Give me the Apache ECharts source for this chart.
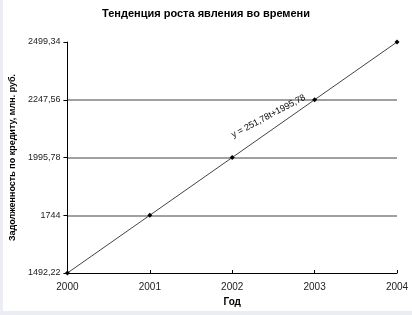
<!DOCTYPE html>
<html><head><meta charset="utf-8">
<script src="https://cdn.jsdelivr.net/npm/echarts@6/dist/echarts.min.js"></script>
<style>
html,body{margin:0;padding:0;background:#fff;}
#wrap{position:relative;width:412px;height:315px;background:#fff;}
#lb{position:absolute;left:0;top:0;width:3px;height:315px;background:#ececf4;}
#bb{position:absolute;left:0;top:311px;width:412px;height:4px;background:#ececf4;}
#c{position:absolute;left:0;top:0;width:412px;height:315px;}
</style>
</head><body>
<div id="wrap"><div id="lb"></div><div id="bb"></div><div id="c"></div></div>
<script>
var categories = ['2000','2001','2002','2003','2004'];
var values = [1492.22, 1744, 1995.78, 2247.56, 2499.34];
var yTicks = [1492.22, 1744, 1995.78, 2247.56, 2499.34];
var yTickLabels = ['1492,22','1744','1995,78','2247,56','2499,34'];
var titleText = 'Тенденция роста явления во времени';
var yName = 'Задолженность по кредиту, млн. руб.';
var xName = 'Год';
var trendText = 'y = 251,78t+1995,78';

var chart = echarts.init(document.getElementById('c'), null, {renderer:'canvas'});
var font = 'Liberation Sans, Arial, sans-serif';
var yMin = yTicks[0], yMax = yTicks[yTicks.length-1];
var yInt = (yMax - yMin) / (yTicks.length - 1);
function labelFor(v){
  for (var i=0;i<yTicks.length;i++){ if (Math.abs(yTicks[i]-v) < 0.5) return yTickLabels[i]; }
  return '';
}
chart.setOption({
  animation:false,
  backgroundColor:'transparent',
  title:{text:titleText, left:'center', top:3,
    textStyle:{fontFamily:font, fontSize:11, fontWeight:'bold', color:'#000'}},
  grid:{left:64, right:15, top:42, bottom:42, containLabel:false},
  xAxis:{type:'category', data:categories, boundaryGap:false,
    name:xName, nameLocation:'middle', nameGap:24,
    nameTextStyle:{fontFamily:font, fontSize:10, fontWeight:'bold', color:'#000'},
    axisLine:{lineStyle:{color:'#000', width:1}},
    axisTick:{show:true, inside:true, length:3, lineStyle:{color:'#000'}},
    axisLabel:{fontFamily:font, fontSize:10, color:'#222', margin:9},
    splitLine:{show:false}},
  yAxis:{type:'value', min:yMin, max:yMax, interval:yInt,
    name:yName, nameLocation:'middle', nameGap:48, nameRotate:90,
    nameTextStyle:{fontFamily:font, fontSize:9, fontWeight:'bold', color:'#000'},
    axisLine:{show:true, lineStyle:{color:'#000', width:1}},
    axisTick:{show:true, length:4, lineStyle:{color:'#000'}},
    axisLabel:{fontFamily:font, fontSize:9, color:'#222', margin:7,
      formatter:function(v){return labelFor(v);}},
    splitLine:{show:true, lineStyle:{color:'#808080', width:1.5},
      showMinLine:false, showMaxLine:false}},
  series:[{type:'line', data:values, symbol:'diamond', symbolSize:5,
    itemStyle:{color:'#000'}, lineStyle:{color:'#444', width:1}}]
});
// anchor of the trend label: 53% of the way from 2002 to 2003 on the line
var f = 0.53;
var pa = chart.convertToPixel({seriesIndex:0}, [2, values[2]]);
var pb = chart.convertToPixel({seriesIndex:0}, [3, values[3]]);
var px = pa[0] + (pb[0]-pa[0])*f, py = pa[1] + (pb[1]-pa[1])*f;
var lineAng = Math.atan2(pa[1]-pb[1], pb[0]-pa[0]);
var txtAng = 28 * Math.PI / 180;
chart.setOption({graphic:[{type:'text', x:px-13*Math.sin(lineAng), y:py-13*Math.cos(lineAng), rotation:txtAng,
  style:{text:trendText, fontFamily:font, fontSize:9, fill:'#000', align:'center', verticalAlign:'middle'}}]});
</script>
</body></html>
